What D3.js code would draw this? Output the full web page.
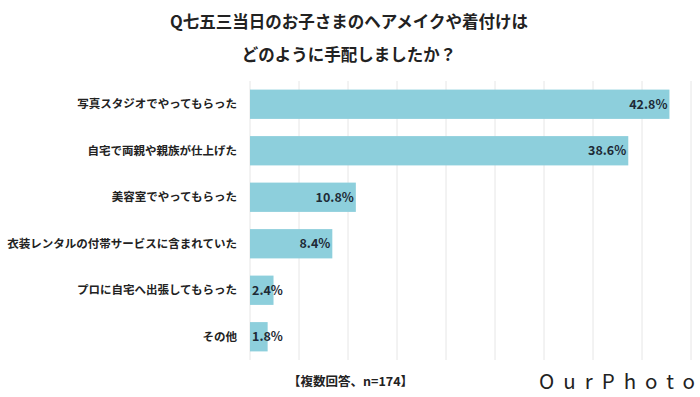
<!DOCTYPE html>
<html>
<head>
<meta charset="utf-8">
<script src="https://cdn.jsdelivr.net/npm/d3@7"></script>
<style>
  body { margin: 0; background: #fff; }
  text { font-family: "Noto Sans CJK JP", "Noto Sans", sans-serif; }
</style>
</head>
<body>
<div id="chart"></div>
<script>
var width = 700;
var height = 397;

var titleLines = ["Q七五三当日のお子さまのヘアメイクや着付けは", "どのように手配しましたか？"];
var categories = [
  "写真スタジオでやってもらった",
  "自宅で両親や親族が仕上げた",
  "美容室でやってもらった",
  "衣装レンタルの付帯サービスに含まれていた",
  "プロに自宅へ出張してもらった",
  "その他"
];
var values = [42.8, 38.6, 10.8, 8.4, 2.4, 1.8];
var gridTicks = [0, 5, 10, 15, 20, 25, 30, 35, 40, 45];
var note = "【複数回答、n=174】";
var logo = "OurPhoto";

var data = categories.map(function(c, i) { return { name: c, value: values[i] }; });

var svg = d3.select("#chart")
  .append("svg")
  .attr("width", width)
  .attr("height", height);

var xScale = d3.scaleLinear()
  .domain([0, 45])
  .range([250, 691]);

var yScale = d3.scaleBand()
  .domain(categories)
  .range([81, 360])
  .paddingInner(0.37)
  .paddingOuter(0.185);

// title
svg.selectAll("text.title")
  .data(titleLines)
  .enter()
  .append("text")
  .attr("class", "title")
  .attr("x", 349)
  .attr("y", function(d, i) { return 28 + i * 33; })
  .attr("text-anchor", "middle")
  .attr("font-size", 16.5)
  .attr("font-weight", "bold")
  .attr("fill", "#222")
  .text(function(d) { return d; });

// grid lines
svg.append("g")
  .selectAll("line")
  .data(gridTicks)
  .enter()
  .append("line")
  .attr("x1", function(d) { return xScale(d); })
  .attr("x2", function(d) { return xScale(d); })
  .attr("y1", 81)
  .attr("y2", 360)
  .attr("stroke", "#e6e6e6")
  .attr("stroke-width", 1);

// category labels
svg.append("g")
  .selectAll("text")
  .data(data)
  .enter()
  .append("text")
  .attr("x", 237)
  .attr("y", function(d) { return yScale(d.name) + yScale.bandwidth() / 2; })
  .attr("dy", "0.36em")
  .attr("text-anchor", "end")
  .attr("font-size", 11.5)
  .attr("font-weight", "bold")
  .attr("fill", "#222")
  .text(function(d) { return d.name; });

// bars
svg.append("g")
  .selectAll("rect")
  .data(data)
  .enter()
  .append("rect")
  .attr("x", xScale(0))
  .attr("y", function(d) { return yScale(d.name); })
  .attr("width", function(d) { return xScale(d.value) - xScale(0); })
  .attr("height", yScale.bandwidth())
  .attr("fill", "#8dcfdc");

// value labels
svg.append("g")
  .selectAll("text")
  .data(data)
  .enter()
  .append("text")
  .attr("x", function(d) {
    return d.value < 5 ? xScale(0) + 2 : xScale(d.value) - 2;
  })
  .attr("y", function(d) { return yScale(d.name) + yScale.bandwidth() / 2; })
  .attr("dy", "0.36em")
  .attr("text-anchor", function(d) { return d.value < 5 ? "start" : "end"; })
  .attr("font-family", "DejaVu Sans, sans-serif")
  .attr("font-size", 12.5)
  .attr("font-weight", "bold")
  .attr("fill", "#1e2a36")
  .text(function(d) { return d.value.toFixed(1) + "%"; });

// note
svg.append("text")
  .attr("x", 288)
  .attr("y", 386)
  .attr("font-size", 12.5)
  .attr("font-weight", "bold")
  .attr("fill", "#222")
  .text(note);

// logo
svg.append("text")
  .attr("x", 539)
  .attr("y", 389)
  .attr("font-family", "DejaVu Sans, sans-serif")
  .attr("font-size", 20.5)
  .attr("textLength", 156)
  .attr("lengthAdjust", "spacing")
  .attr("fill", "#222")
  .text(logo);
</script>
</body>
</html>
